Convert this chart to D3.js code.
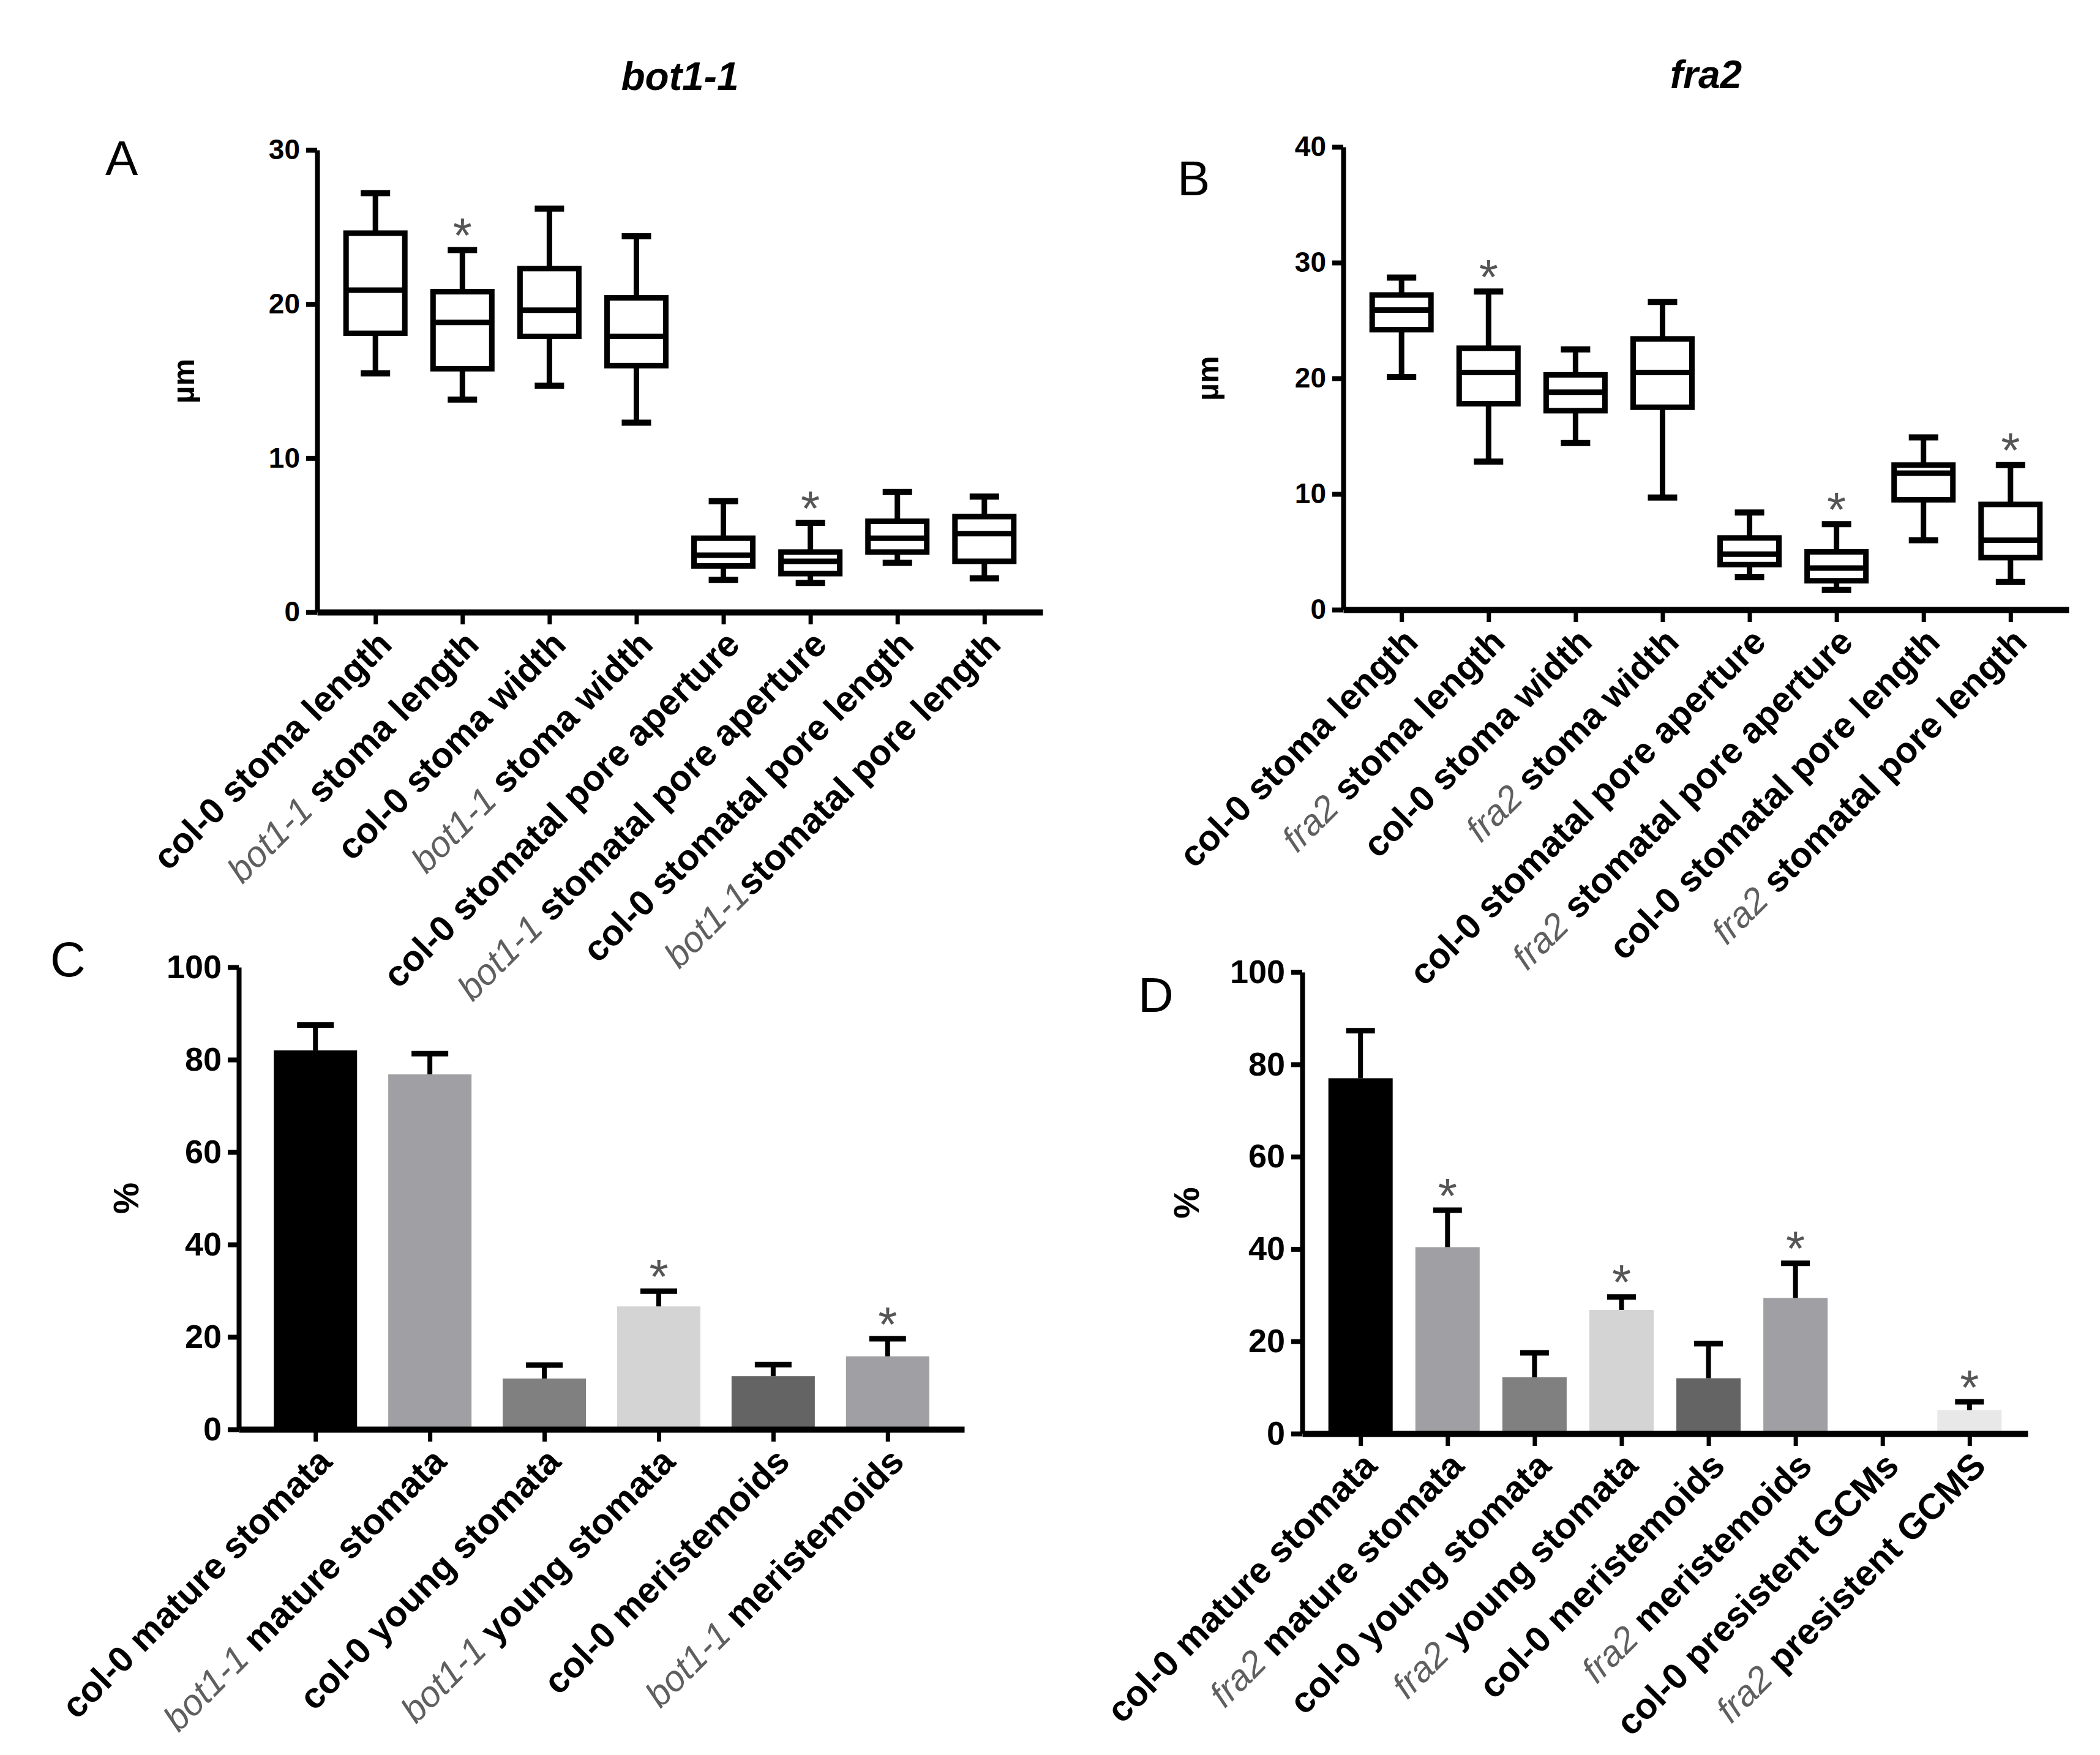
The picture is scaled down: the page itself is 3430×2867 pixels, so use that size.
<!DOCTYPE html>
<html>
<head>
<meta charset="utf-8">
<script src="https://cdn.jsdelivr.net/npm/d3@7"></script>
<style>
  body { margin: 0; background: #fff; }
  text { font-family: "Liberation Sans", Arial, sans-serif; }
</style>
</head>
<body>
<div id="chart"></div>
<script>
// DATA ------------------------------------------------------------------
const labelsA = ['col-0 stoma length', 'bot1-1 stoma length', 'col-0 stoma width', 'bot1-1 stoma width',
  'col-0 stomatal pore aperture', 'bot1-1 stomatal pore aperture', 'col-0 stomatal pore length', 'bot1-1stomatal pore length'];
// [min, q1, median, q3, max]
const boxesA = [
  [15.5, 18.1, 20.9, 24.6, 27.2],
  [13.8, 15.8, 18.8, 20.8, 23.5],
  [14.7, 17.9, 19.6, 22.3, 26.2],
  [12.3, 16.0, 17.9, 20.4, 24.4],
  [2.1, 3.0, 3.7, 4.8, 7.2],
  [1.9, 2.5, 3.3, 3.9, 5.8],
  [3.2, 3.9, 4.8, 5.9, 7.8],
  [2.2, 3.3, 5.1, 6.2, 7.5]
];
const starsA = [0, 1, 0, 0, 0, 1, 0, 0];
const ticksA = [0, 10, 20, 30];

const labelsB = ['col-0 stoma length', 'fra2 stoma length', 'col-0 stoma width', 'fra2 stoma width',
  'col-0 stomatal pore aperture', 'fra2 stomatal pore aperture', 'col-0 stomatal pore length', 'fra2 stomatal pore length'];
const boxesB = [
  [20.1, 24.2, 25.9, 27.2, 28.7],
  [12.8, 17.8, 20.5, 22.6, 27.5],
  [14.4, 17.2, 18.8, 20.3, 22.5],
  [9.7, 17.5, 20.5, 23.4, 26.6],
  [2.8, 3.9, 4.8, 6.2, 8.4],
  [1.7, 2.5, 3.6, 5.0, 7.4],
  [6.0, 9.5, 11.8, 12.5, 14.9],
  [2.4, 4.5, 6.0, 9.1, 12.5]
];
const starsB = [0, 1, 0, 0, 0, 1, 0, 1];
const ticksB = [0, 10, 20, 30, 40];

const labelsC = ['col-0 mature stomata', 'bot1-1 mature stomata', 'col-0 young stomata',
  'bot1-1 young stomata', 'col-0 meristemoids', 'bot1-1 meristemoids'];
const meansC = [82.0, 76.8, 11.0, 26.6, 11.5, 15.8];
const errC = [5.5, 4.5, 2.9, 3.3, 2.5, 3.8];
const starsC = [0, 0, 0, 1, 0, 1];
const colorsC = ['#000000', '#a0a0a4', '#808080', '#d4d4d4', '#646464', '#a0a0a4'];

const labelsD = ['col-0 mature stomata', 'fra2 mature stomata', 'col-0 young stomata', 'fra2 young stomata',
  'col-0 meristemoids', 'fra2 meristemoids', 'col-0 presistent GCMs', 'fra2 presistent GCMS'];
const meansD = [77.0, 40.4, 12.2, 26.8, 12.0, 29.4, 0, 5.1];
const errD = [10.3, 8.0, 5.3, 2.8, 7.5, 7.5, 0, 1.8];
const starsD = [0, 1, 0, 1, 0, 1, 0, 1];
const colorsD = ['#000000', '#a0a0a4', '#808080', '#d4d4d4', '#646464', '#a0a0a4', '#ffffff', '#e8e8e8'];
const ticksCD = [0, 20, 40, 60, 80, 100];

// CHART INIT ------------------------------------------------------------
const W = 3430, H = 2867;
const svg = d3.select('#chart').append('svg')
  .attr('width', W).attr('height', H);
svg.append('rect').attr('width', W).attr('height', H).attr('fill', '#fff');

const mutant = /^(bot1-1|fra2)(.*)$/;

// y axis, x axis and rotated category labels shared by all panels
function axes(g, x, y, ticks, p) {
  const yAxis = d3.axisLeft(y).tickValues(ticks).tickSize(18).tickPadding(10).tickSizeOuter(0);
  const ya = g.append('g').attr('transform', 'translate(' + p.x0 + ',0)').call(yAxis);
  ya.select('.domain').attr('stroke-width', 8);
  ya.selectAll('.tick line').attr('stroke-width', 8);
  ya.selectAll('.tick text')
    .attr('font-family', '"Liberation Sans", Arial, sans-serif')
    .attr('font-weight', 'bold')
    .attr('font-size', p.tickFont);

  const xAxis = d3.axisBottom(x).tickSize(20).tickSizeOuter(0).tickFormat('');
  const xa = g.append('g').attr('transform', 'translate(0,' + p.yBot + ')').call(xAxis);
  xa.select('.domain').attr('stroke-width', 10);
  xa.selectAll('.tick line').attr('stroke-width', 7);

  g.selectAll('text.xlabel')
    .data(p.labels)
    .join('text')
    .attr('class', 'xlabel')
    .attr('text-anchor', 'end')
    .attr('font-size', 59)
    .attr('transform', (d, i) => 'translate(' + (x(i) + 30) + ',' + (p.yBot + 56) + ') rotate(-45)')
    .each(function (d) {
      const t = d3.select(this);
      const m = d.match(mutant);
      if (m) {
        t.append('tspan').attr('font-style', 'italic').attr('fill', '#5f5f5f').text(m[1]);
        t.append('tspan').attr('font-weight', 'bold').attr('fill', '#000').text(m[2]);
      } else {
        t.append('tspan').attr('font-weight', 'bold').attr('fill', '#000').text(d);
      }
    });

  // y title
  g.append('text')
    .attr('transform', 'translate(' + (p.x0 - p.titleOff) + ',' + ((p.yTop + p.yBot) / 2) + ') rotate(-90)')
    .attr('text-anchor', 'middle')
    .attr('dominant-baseline', 'central')
    .attr('font-weight', 'bold')
    .attr('font-size', p.titleFont)
    .text(p.yTitle);

  // panel letter
  g.append('text')
    .attr('x', p.letterX).attr('y', p.letterY)
    .attr('font-size', 80)
    .text(p.letter);
}

function star(g, cx, cy) {
  g.append('text')
    .attr('x', cx).attr('y', cy - 30 + 0.42 * 80)
    .attr('text-anchor', 'middle')
    .attr('font-size', 80)
    .attr('fill', '#555')
    .text('*');
}

function boxPanel(p, boxes, stars, ticks) {
  const g = svg.append('g');
  const x = d3.scalePoint().domain(d3.range(boxes.length)).range([p.x0, p.x1]).padding(0.67);
  const y = d3.scaleLinear().domain([0, ticks[ticks.length - 1]]).range([p.yBot, p.yTop]);
  const bw = 96, cw = 48;

  const b = g.selectAll('g.box').data(boxes).join('g').attr('class', 'box');
  b.append('line')
    .attr('x1', (d, i) => x(i)).attr('x2', (d, i) => x(i))
    .attr('y1', d => y(d[0])).attr('y2', d => y(d[4]))
    .attr('stroke', '#000').attr('stroke-width', 9);
  b.append('rect')
    .attr('x', (d, i) => x(i) - bw / 2).attr('width', bw)
    .attr('y', d => y(d[3])).attr('height', d => y(d[1]) - y(d[3]))
    .attr('fill', '#fff').attr('stroke', '#000').attr('stroke-width', 9);
  b.append('line')
    .attr('x1', (d, i) => x(i) - bw / 2).attr('x2', (d, i) => x(i) + bw / 2)
    .attr('y1', d => y(d[2])).attr('y2', d => y(d[2]))
    .attr('stroke', '#000').attr('stroke-width', 9);
  [0, 4].forEach(k => {
    b.append('line')
      .attr('x1', (d, i) => x(i) - cw / 2).attr('x2', (d, i) => x(i) + cw / 2)
      .attr('y1', d => y(d[k])).attr('y2', d => y(d[k]))
      .attr('stroke', '#000').attr('stroke-width', 10);
  });
  boxes.forEach((d, i) => { if (stars[i]) star(g, x(i), y(d[4])); });

  axes(g, x, y, ticks, p);

  g.append('text')
    .attr('x', (p.x0 + p.x1) / 2).attr('y', p.headY)
    .attr('text-anchor', 'middle')
    .attr('font-weight', 'bold').attr('font-style', 'italic')
    .attr('font-size', 64)
    .text(p.head);
}

function barPanel(p, means, errs, colors, stars) {
  const g = svg.append('g');
  const x = d3.scalePoint().domain(d3.range(means.length)).range([p.x0, p.x1]).padding(0.67);
  const y = d3.scaleLinear().domain([0, 100]).range([p.yBot, p.yTop]);

  g.selectAll('rect.bar').data(means).join('rect')
    .attr('class', 'bar')
    .attr('x', (d, i) => x(i) - p.barW / 2).attr('width', p.barW)
    .attr('y', d => y(d)).attr('height', d => p.yBot - y(d))
    .attr('fill', (d, i) => colors[i]);

  means.forEach((m, i) => {
    if (!m) return;
    const top = m + errs[i];
    g.append('line')
      .attr('x1', x(i)).attr('x2', x(i)).attr('y1', y(m)).attr('y2', y(top))
      .attr('stroke', '#000').attr('stroke-width', 8);
    g.append('line')
      .attr('x1', x(i) - p.capW / 2).attr('x2', x(i) + p.capW / 2).attr('y1', y(top)).attr('y2', y(top))
      .attr('stroke', '#000').attr('stroke-width', 9);
    if (stars[i]) star(g, x(i), y(top));
  });

  axes(g, x, y, ticksCD, p);
}

// PANELS ----------------------------------------------------------------
boxPanel({ x0: 518, x1: 1703, yTop: 245, yBot: 1000, labels: labelsA, tickFont: 46,
  yTitle: 'µm', titleOff: 218, titleFont: 50, letter: 'A', letterX: 172, letterY: 286,
  head: 'bot1-1', headY: 147 }, boxesA, starsA, ticksA);

boxPanel({ x0: 2194, x1: 3379, yTop: 240, yBot: 996, labels: labelsB, tickFont: 46,
  yTitle: 'µm', titleOff: 221, titleFont: 50, letter: 'B', letterX: 1923, letterY: 319,
  head: 'fra2', headY: 144 }, boxesB, starsB, ticksB);

barPanel({ x0: 390, x1: 1575, yTop: 1580, yBot: 2335, labels: labelsC, tickFont: 54,
  yTitle: '%', titleOff: 185, titleFont: 58, letter: 'C', letterX: 82, letterY: 1595,
  barW: 136, capW: 60 }, meansC, errC, colorsC, starsC);

barPanel({ x0: 2127, x1: 3312, yTop: 1588, yBot: 2342, labels: labelsD, tickFont: 54,
  yTitle: '%', titleOff: 190, titleFont: 58, letter: 'D', letterX: 1859, letterY: 1653,
  barW: 105, capW: 47 }, meansD, errD, colorsD, starsD);
</script>
</body>
</html>
